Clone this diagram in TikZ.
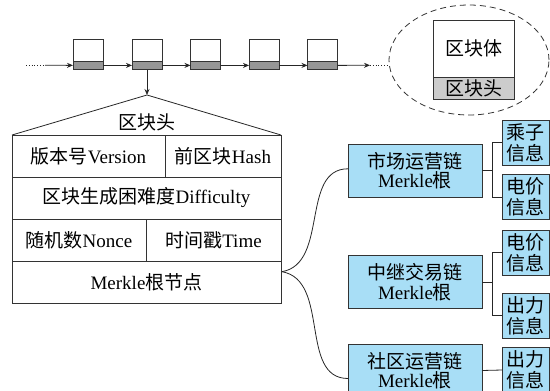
\documentclass[tikz,border=0pt]{standalone}
\usepackage{fontspec}
\setmainfont{Liberation Serif}
\newfontfamily\cjk{Noto Sans CJK SC}
\newcommand{\zh}[1]{{\cjk #1}}
\definecolor{chainblue}{RGB}{168,222,246}
\definecolor{headgray}{RGB}{150,150,150}
\definecolor{lightheadgray}{RGB}{204,204,204}
\usetikzlibrary{arrows.meta, shapes.geometric, positioning}

\begin{document}
\begin{tikzpicture}[x=1pt, y=-1pt, line width=0.8pt,
    blkbody/.style={draw=black!80, fill=white, minimum width=30pt,
        minimum height=21.7pt, inner sep=0pt, outer sep=0pt},
    blkhead/.style={blkbody, fill=headgray, minimum height=8.7pt},
    cell/.style={draw=black!80, minimum height=42pt, inner sep=0pt,
        outer sep=0pt, font=\fontsize{19}{20}\selectfont},
    chainbox/.style={draw=black!80, fill=chainblue, minimum width=134pt,
        minimum height=53pt, inner sep=0pt, outer sep=0pt, align=center,
        font=\fontsize{19}{19.5}\selectfont},
    infobox/.style={chainbox, minimum width=47pt, minimum height=45pt,
        font=\fontsize{19}{21}\selectfont},
    arr/.style={-{Stealth[length=6pt, width=5pt]}, black!85},
    link/.style={black!85}
  ]
  \useasboundingbox (0,0) rectangle (550,391);
  \clip (0,0) rectangle (550,391);

  % blockchain
  \foreach \i/\x in {1/88,2/147,3/205.5,4/264,5/322.5}{
    \node[blkbody] (b\i) at (\x,50.2) {};
    \node[blkhead, below=0pt of b\i] (h\i) {};
  }
  \coordinate (dotstart) at (26,65.3);
  \coordinate (dotend) at (45,65.3);
  \draw[link, dotted] (dotstart) -- (dotend);
  \draw[arr] (dotend) -- (h1);
  \foreach \a/\b in {1/2,2/3,3/4,4/5} \draw[arr] (h\a) -- (h\b);
  \coordinate (tail) at (370,65.3);
  \draw[arr] (h5) -- (tail);

  % enlarged block
  \node[draw=black!80, dash pattern=on 6pt off 4pt, ellipse, minimum width=160pt,
    minimum height=110pt, inner sep=0pt] (ell) at (469,60) {};
  \draw[link, dotted] (tail) -- (tail -| ell.west);
  \node[cell, fill=white, minimum width=80.7pt, minimum height=57.3pt]
  (bigbody) at (473.7,48.7) {\zh{区块体}};
  \node[cell, fill=lightheadgray, minimum width=80.7pt, minimum height=22pt,
    below=0pt of bigbody] (bighead) {\zh{区块头}};

  % block header
  \coordinate (apex) at (147,95);
  \draw[arr] (h2) -- (apex);
  \node[cell, minimum width=153pt, anchor=north west] (ver) at (12,135) {\zh{版本号}Version};
  \node[cell, minimum width=116pt, right=0pt of ver] (hash) {\zh{前区块}Hash};
  \node[cell, minimum width=269pt, below=0pt of ver.south west, anchor=north west]
  (diff) {\zh{区块生成困难度}Difficulty};
  \node[cell, minimum width=134pt, below=0pt of diff.south west, anchor=north west]
  (nonce) {\zh{随机数}Nonce};
  \node[cell, minimum width=135pt, right=0pt of nonce] (time) {\zh{时间戳}Time};
  \node[cell, minimum width=269pt, below=0pt of nonce.south west, anchor=north west]
  (mroot) {Merkle\zh{根节点}};
  \draw[link] (ver.north west) -- (apex) -- (hash.north east);
  \node[font=\fontsize{19}{20}\selectfont] (hdrlabel) at (147,122.5) {\zh{区块头}};

  % merkle roots of the sub-chains
  \coordinate (fork) at (282,271.7);
  \node[chainbox] (mkt) at (415,170.8) {\zh{市场运营链}\\Merkle\zh{根}};
  \node[chainbox] (relay) at (415,282) {\zh{中继交易链}\\Merkle\zh{根}};
  \node[chainbox] (comm) at (415,370.5) {\zh{社区运营链}\\Merkle\zh{根}};
  \draw[link] (fork) to[out=10, in=180] ([yshift=2pt]mkt.west);
  \draw[link] (fork) to[out=-10, in=180] ([yshift=-8pt]comm.west);

  \node[infobox] (mult) at (525.8,142.5) {\zh{乘子}\\\zh{信息}};
  \node[infobox] (price1) at (525.8,197) {\zh{电价}\\\zh{信息}};
  \node[infobox] (price2) at (525.8,252.5) {\zh{电价}\\\zh{信息}};
  \node[infobox] (out1) at (525.8,315.5) {\zh{出力}\\\zh{信息}};
  \node[infobox] (out2) at (525.8,370) {\zh{出力}\\\zh{信息}};

  \coordinate (jmkt) at ([xshift=10.5pt]mkt.east);
  \draw[link] (mkt.east) -- (jmkt) |- (mult.west);
  \draw[link] (jmkt) |- (price1.west);
  \coordinate (jrelay) at ([xshift=10.5pt]relay.east);
  \draw[link] (relay.east) -- (jrelay) |- (price2.west);
  \draw[link] (jrelay) |- (out1.west);
  \draw[link] (comm.east) -- (out2.west);
\end{tikzpicture}
\end{document}
